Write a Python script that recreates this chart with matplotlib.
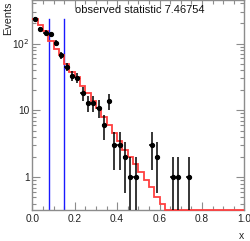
import numpy as np
import matplotlib
matplotlib.use("Agg")
import matplotlib.pyplot as plt
from matplotlib.ticker import FixedLocator, NullFormatter, LogLocator

plt.rcParams['font.family'] = ['Liberation Sans', 'DejaVu Sans']

# ---- data ----
bin_edges = np.linspace(0.0, 1.0, 41)
data_counts = [232, 166, 145, 138, 102, 67, 45, 33, 31, 18,
               13, 13, 11, 6, 14, 3, 3, 2, 1, 1,
               0, 0, 3, 2, 0, 0, 1, 1, 0, 1,
               0, 0, 0, 0, 0, 0, 0, 0, 0, 0]
mc_expect = [235, 190, 152, 108, 84, 67, 50, 38, 32, 23,
             18, 14, 11, 8, 6, 4.6, 3.5, 2.6, 2.0, 1.6,
             1.2, 0.9, 0.72, 0.5, 0.4, 0, 0, 0, 0, 0,
             0, 0, 0, 0, 0, 0, 0, 0, 0, 0]
cut_lines = [0.077, 0.151]
cut_top = 232
title_text = "observed statistic 7.46754"
x_ticks = [0.0, 0.2, 0.4, 0.6, 0.8, 1.0]
x_ticklabels = ["0.0", "0.2", "0.4", "0.6", "0.8", "1.0"]

ymin, ymax = 0.33, 447.0

fig = plt.figure(figsize=(2.50, 2.41), dpi=100)
ax = fig.add_axes([32.3 / 250, 1 - 209.5 / 241, 212 / 250, 209.5 / 241])
ax.set_yscale('log')
ax.set_xlim(0, 1)
ax.set_ylim(ymin, ymax)

axis_col = '#8c8c8c'
for s in ax.spines.values():
    s.set_color(axis_col)
    s.set_linewidth(1.0)

# MC histogram
mc = np.array(mc_expect, dtype=float)
mc_draw = np.where(mc > 0, mc, ymin)
ax.stairs(mc_draw, bin_edges, color='#ff4040', lw=1.3, baseline=None,
          clip_on=False, zorder=3)

# cut lines
for xc in cut_lines:
    ax.plot([xc, xc], [ymin, cut_top], color='#1a1aff', lw=1.0, zorder=2)

# data points
centers = 0.5 * (bin_edges[:-1] + bin_edges[1:])
dc = np.array(data_counts, dtype=float)
m = dc > 0
err = np.sqrt(dc[m])
ax.errorbar(centers[m], dc[m], yerr=err, xerr=0.0125 * 0.85, fmt='o',
            color='black', ms=2.8, elinewidth=1.1, capsize=0, zorder=4)

# ticks
ax.xaxis.set_major_locator(FixedLocator(x_ticks))
ax.set_xticklabels(x_ticklabels)
ax.xaxis.set_minor_locator(FixedLocator(np.arange(0, 1.001, 0.05)))
ax.yaxis.set_major_locator(FixedLocator([1, 10, 100]))
ax.set_yticklabels(["1", "10", "10$^{2}$"])
ax.yaxis.set_minor_locator(LogLocator(base=10, subs=np.arange(2, 10)))
ax.yaxis.set_minor_formatter(NullFormatter())
ax.tick_params(which='both', direction='in', top=True, right=True,
               color=axis_col, labelsize=7.3, labelcolor='#222222')
ax.tick_params(which='major', length=6, width=0.8)
ax.tick_params(which='minor', length=3, width=0.8)
ax.tick_params(axis='x', pad=3)
ax.tick_params(axis='y', pad=2)

ax.text(-0.113, 0.995, "Events", transform=ax.transAxes, rotation=90,
        ha='center', va='top', fontsize=7.8, color='#222222')
ax.text(1.0, -0.125, "x", transform=ax.transAxes, ha='right', va='center',
        fontsize=7.5, color='#222222')
fig.text(140 / 250, 1 - 10 / 241, title_text, ha='center', va='center',
         fontsize=8.0, color='#111111')

fig.savefig("out.png", dpi=100, facecolor='white')
